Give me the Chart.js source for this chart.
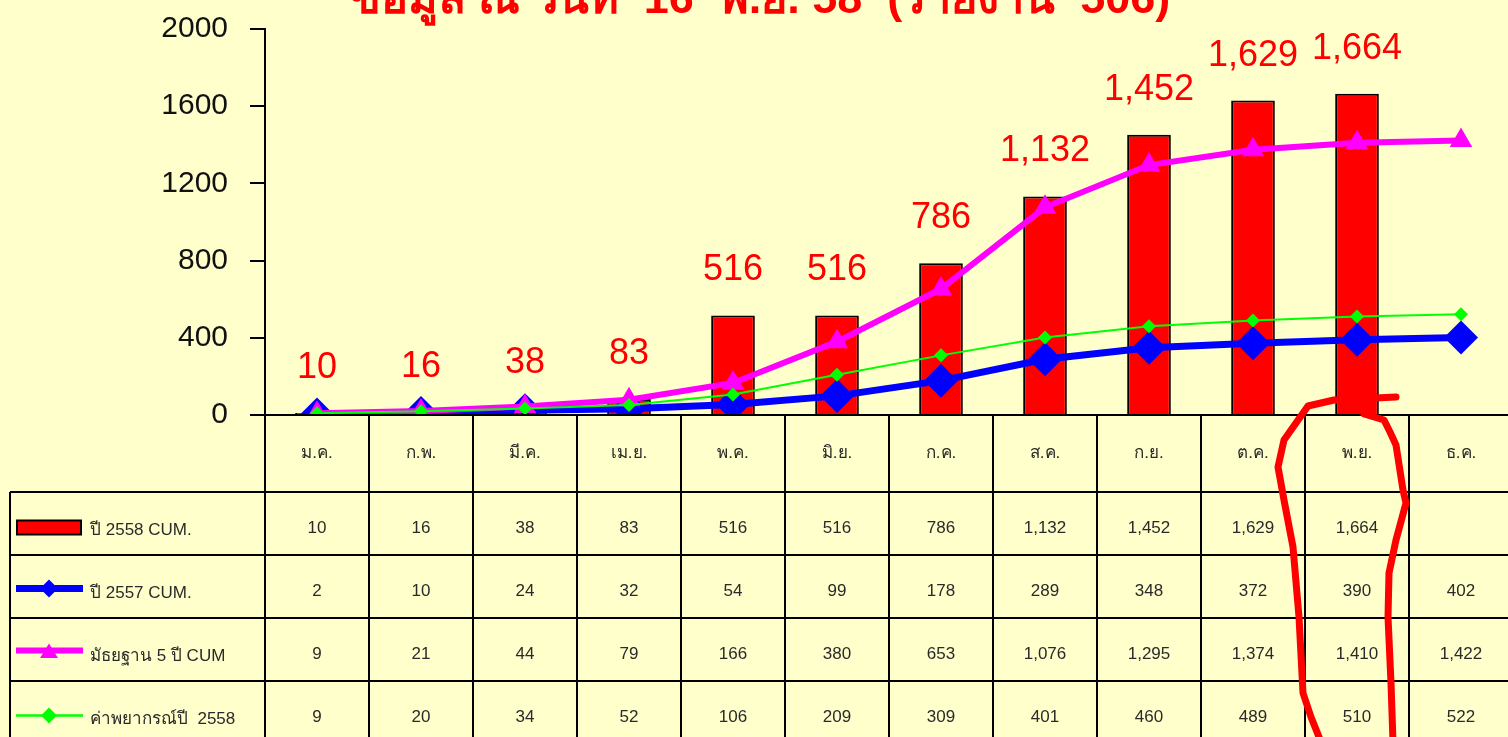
<!DOCTYPE html>
<html lang="th">
<head>
<meta charset="utf-8">
<title>ข้อมูล ณ วันที่ 16 พ.ย. 58</title>
<script src="https://cdn.jsdelivr.net/npm/chart.js@4.4.1/dist/chart.umd.min.js"></script>
<style>
  html, body { margin: 0; padding: 0; overflow: hidden; background: #ffffcc; }
</style>
</head>
<body>
<canvas id="chart" width="1530" height="737"></canvas>
<script>
const months = ['ม.ค.', 'ก.พ.', 'มี.ค.', 'เม.ย.', 'พ.ค.', 'มิ.ย.', 'ก.ค.', 'ส.ค.', 'ก.ย.', 'ต.ค.', 'พ.ย.', 'ธ.ค.'];
const cum2558 = [10, 16, 38, 83, 516, 516, 786, 1132, 1452, 1629, 1664, null];
const cum2557 = [2, 10, 24, 32, 54, 99, 178, 289, 348, 372, 390, 402];
const median5y = [9, 21, 44, 79, 166, 380, 653, 1076, 1295, 1374, 1410, 1422];
const forecast2558 = [9, 20, 34, 52, 106, 209, 309, 401, 460, 489, 510, 522];
const seriesNames = ['ปี 2558 CUM.', 'ปี 2557 CUM.', 'มัธยฐาน 5 ปี CUM', 'ค่าพยากรณ์ปี  2558'];
const yTicks = [0, 400, 800, 1200, 1600, 2000];
const titleText = 'ข้อมูล ณ วันที่  16  พ.ย. 58  (รายงาน  506)';

const FONT = "'Liberation Sans', Arial, sans-serif";
Chart.defaults.font.family = FONT;

const fmt = v => v == null ? '' : v.toLocaleString('en-US');

function diamond(ctx, x, y, r) {
  ctx.beginPath();
  ctx.moveTo(x, y - r); ctx.lineTo(x + r, y); ctx.lineTo(x, y + r); ctx.lineTo(x - r, y);
  ctx.closePath(); ctx.fill();
}
function triangle(ctx, x, y, r) {
  ctx.beginPath();
  ctx.moveTo(x, y - r); ctx.lineTo(x + r, y + r * 0.6); ctx.lineTo(x - r, y + r * 0.6);
  ctx.closePath(); ctx.fill();
}

// background, title, bar labels, data table and the hand drawn mark
const sheet = {
  id: 'sheet',
  beforeDraw(chart) {
    const ctx = chart.ctx;
    ctx.save();
    ctx.fillStyle = '#ffffcc';
    ctx.fillRect(0, 0, chart.width, chart.height);
    ctx.restore();
  },
  afterDatasetsDraw(chart) {
    const ctx = chart.ctx;
    ctx.save();
    ctx.fillStyle = '#ff0000';
    ctx.font = '36px ' + FONT;
    ctx.textAlign = 'center';
    ctx.textBaseline = 'middle';
    chart.getDatasetMeta(0).data.forEach((bar, i) => {
      if (cum2558[i] == null) return;
      ctx.fillText(fmt(cum2558[i]), bar.x, bar.y - 45);
    });
    ctx.restore();
  },
  afterDraw(chart) {
    const ctx = chart.ctx;
    const area = chart.chartArea;
    const x = chart.scales.x;
    const y0 = chart.scales.y.getPixelForValue(0);
    const w = (area.right - area.left) / months.length;
    const headBottom = y0 + 77;
    const rowH = 63;
    const bottom = headBottom + rowH * 4;
    ctx.save();

    // title (cut off by the top edge)
    ctx.fillStyle = '#ff0000';
    ctx.font = 'bold 45px ' + FONT;
    ctx.textAlign = 'center';
    ctx.textBaseline = 'alphabetic';
    ctx.fillText(titleText, 760, 13);

    // grid of the table
    ctx.strokeStyle = '#000';
    ctx.lineWidth = 2;
    ctx.beginPath();
    ctx.moveTo(area.left, y0); ctx.lineTo(area.right, y0);
    for (let k = 0; k <= 4; k++) {
      ctx.moveTo(10, headBottom + k * rowH); ctx.lineTo(area.right, headBottom + k * rowH);
    }
    ctx.moveTo(10, headBottom); ctx.lineTo(10, bottom);
    for (let i = 0; i <= months.length; i++) {
      const bx = area.left + i * w;
      ctx.moveTo(bx, y0); ctx.lineTo(bx, bottom);
    }
    ctx.stroke();

    // month labels and values
    ctx.fillStyle = '#2a2a2a';
    ctx.textAlign = 'center';
    ctx.textBaseline = 'middle';
    ctx.font = '17px ' + FONT;
    const rows = [cum2558, cum2557, median5y, forecast2558];
    months.forEach((m, i) => {
      const cx = x.getPixelForValue(i);
      ctx.fillText(m, cx, y0 + 38);
      rows.forEach((r, k) => {
        ctx.fillText(fmt(r[i]), cx, headBottom + k * rowH + rowH / 2 + 5);
      });
    });

    // legend keys in the first column
    const ly = k => headBottom + k * rowH + rowH / 2;
    ctx.fillStyle = '#ff0000';
    ctx.fillRect(17, ly(0) - 3, 64, 14);
    ctx.strokeRect(17, ly(0) - 3, 64, 14);

    ctx.lineCap = 'butt';
    ctx.strokeStyle = '#0000ff'; ctx.lineWidth = 7;
    ctx.beginPath(); ctx.moveTo(16, ly(1) + 2); ctx.lineTo(83, ly(1) + 2); ctx.stroke();
    ctx.fillStyle = '#0000ff'; diamond(ctx, 49, ly(1) + 2, 9);

    ctx.strokeStyle = '#ff00ff'; ctx.lineWidth = 6;
    ctx.beginPath(); ctx.moveTo(16, ly(2) + 1); ctx.lineTo(83, ly(2) + 1); ctx.stroke();
    ctx.fillStyle = '#ff00ff'; triangle(ctx, 49, ly(2) + 3, 9);

    ctx.strokeStyle = '#00ff00'; ctx.lineWidth = 2.5;
    ctx.beginPath(); ctx.moveTo(16, ly(3) + 3); ctx.lineTo(83, ly(3) + 3); ctx.stroke();
    ctx.fillStyle = '#00ff00'; diamond(ctx, 49, ly(3) + 3, 8);

    ctx.fillStyle = '#2a2a2a';
    ctx.textAlign = 'left';
    ctx.font = '17px ' + FONT;
    seriesNames.forEach((n, k) => ctx.fillText(n, 90, ly(k) + 7));

    // red hand drawn loop around the November column
    const nx = x.getPixelForValue(10);
    const left = [[39, 397], [-23, 400], [-49, 406], [-73, 440], [-79, 467], [-73, 500],
                  [-64, 547], [-58, 617], [-54, 693], [-46, 717], [-36, 742]];
    const right = [[7, 414], [27, 420], [33, 432], [39, 445], [46, 490], [49, 503],
                   [39, 540], [32, 573], [31, 617], [34, 683], [36, 742]];
    ctx.strokeStyle = '#ff0000';
    ctx.lineWidth = 7;
    ctx.lineJoin = 'round';
    ctx.lineCap = 'round';
    [left, right].forEach(path => {
      ctx.beginPath();
      path.forEach(([dx, py], j) => j ? ctx.lineTo(nx + dx, py) : ctx.moveTo(nx + dx, py));
      ctx.stroke();
    });
    ctx.restore();
  }
};

new Chart(document.getElementById('chart'), {
  type: 'bar',
  data: {
    labels: months,
    datasets: [
      {
        label: seriesNames[0], data: cum2558, order: 4,
        backgroundColor: '#ff0000', borderColor: '#000', borderWidth: 2,
        borderSkipped: 'bottom', barPercentage: 0.42, categoryPercentage: 1
      },
      {
        type: 'line', label: seriesNames[1], data: cum2557, order: 3,
        borderColor: '#0000ff', borderWidth: 7, tension: 0,
        pointStyle: 'rectRot', pointRadius: 17, pointBackgroundColor: '#0000ff', pointBorderWidth: 0
      },
      {
        type: 'line', label: seriesNames[2], data: median5y, order: 2,
        borderColor: '#ff00ff', borderWidth: 6, tension: 0,
        pointStyle: 'triangle', pointRadius: 13, pointBackgroundColor: '#ff00ff', pointBorderWidth: 0
      },
      {
        type: 'line', label: seriesNames[3], data: forecast2558, order: 1,
        borderColor: '#00ff00', borderWidth: 2, tension: 0,
        pointStyle: 'rectRot', pointRadius: 7, pointBackgroundColor: '#00ff00', pointBorderWidth: 0
      }
    ]
  },
  options: {
    responsive: false,
    animation: false,
    events: [],
    layout: { padding: { left: 0, top: 29, right: 4, bottom: 322 } },
    plugins: { legend: { display: false }, tooltip: { enabled: false } },
    scales: {
      x: { display: false, offset: true },
      y: {
        min: 0, max: 2000,
        afterBuildTicks: axis => { axis.ticks = yTicks.map(v => ({ value: v })); },
        afterFit: axis => { axis.width = 265; axis.paddingTop = 0; axis.paddingBottom = 0; },
        ticks: { font: { size: 30 }, color: '#111', padding: 22, callback: v => String(v) },
        grid: { drawOnChartArea: false, drawTicks: true, tickLength: 15, color: '#000', lineWidth: 2 },
        border: { display: true, color: '#000', width: 2 }
      }
    }
  },
  plugins: [sheet]
});
</script>
</body>
</html>
